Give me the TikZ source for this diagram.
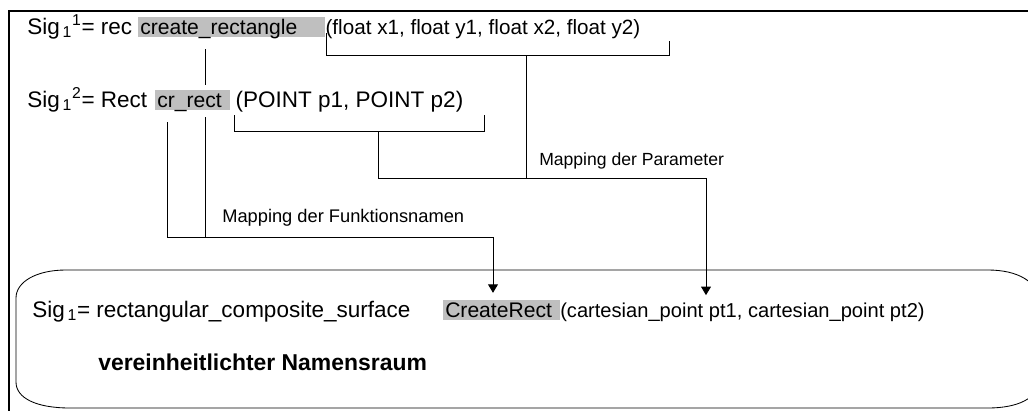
\documentclass[tikz,border=0pt]{standalone}
\usepackage{fontspec}
\setmainfont{Liberation Sans}
\usetikzlibrary{arrows.meta}

\begin{document}
\begin{tikzpicture}[x=0.025cm,y=-0.025cm,
    txt/.style={anchor=base west,inner sep=0pt,font=\fontsize{16}{19}\selectfont},
    lbl/.style={anchor=base west,inner sep=0pt,font=\fontsize{12.5}{15}\selectfont},
    hl/.style={txt,font=\fontsize{15}{18}\selectfont,fill=gray!50,inner xsep=1.4pt,
      text height=12pt,text depth=2pt,align=left},
    conn/.style={line width=0.6pt},
    map/.style={conn,-{Triangle[length=6pt,width=7pt]},shorten >=5pt}]
  \useasboundingbox (0,0) rectangle (1028,410);
  \begin{scope}
    \clip (0,0) rectangle (1028,410);
    % outer frame
    \draw[line width=1.5pt] (9,412) -- (9,11) -- (1030,11);
    % unified namespace
    \draw[conn] (66,270) -- (988,270) .. controls (1018,270) and (1038,282) .. (1038,300)
      -- (1038,382) .. controls (1038,398) and (1018,408) .. (988,408) -- (70,408)
      .. controls (36,408) and (16,398) .. (16,382) -- (16,298)
      .. controls (16,282) and (36,270) .. (66,270) -- cycle;
  \end{scope}

  % signatures
  \node[txt] (sigA) at (27,34) {Sig\kern2pt\textsubscript{1}\textsuperscript{1}= rec};
  \node[hl,text width=130pt] (crect) at (138,34) {create\_rectangle};
  \node[txt,font=\fontsize{14.7}{18}\selectfont] (parA) at (crect.base east)
    {(float x1, float y1, float x2, float y2)};

  \node[txt] (sigB) at (27,107) {Sig\kern2pt\textsubscript{1}\textsuperscript{2}= Rect};
  \node[hl,text width=50pt] (crr) at (155,107) {cr\_rect};
  \node[txt] (parB) at ([xshift=4pt]crr.base east) {(POINT p1, POINT p2)};

  \node[txt] (sigC) at (32,317) {Sig\kern2pt\textsubscript{1}= rectangular\_composite\_surface};
  \node[hl,text width=80pt] (cRect) at (443,317) {CreateRect};
  \node[txt,font=\fontsize{14.3}{18}\selectfont] (parC) at (cRect.base east)
    {(cartesian\_point pt1, cartesian\_point pt2)};
  \node[txt,font=\fontsize{16.3}{20}\selectfont\bfseries] (ns) at (98,370) {vereinheitlichter Namensraum};

  % brackets under the parameter lists
  \draw[conn] (326,33) |- (669,55) -- (669,41);
  \draw[conn] (234,115) |- (484,131) -- (484,115);

  % mapping of the parameters
  \coordinate (pa) at (526,55);
  \coordinate (pb) at (378,131);
  \coordinate (pj) at (706,178);
  \draw[conn] (pa) -- (pa |- pj);
  \draw[conn] (pb) |- (pj);
  \draw[map] (pj) -- (pj |- parC.north);
  \node[lbl] (mp) at (539,165) {Mapping der Parameter};

  % mapping of the function names
  \coordinate (n1) at (205,49);
  \coordinate (n2) at (205,85);
  \coordinate (n3) at (167,122);
  \coordinate (n4) at (205,117);
  \coordinate (nj) at (493,237);
  \draw[conn] (n1) -- (n2);
  \draw[conn] (n4) -- (n4 |- nj);
  \draw[conn] (n3) |- (nj);
  \draw[map] (nj) -- (nj |- cRect.north);
  \node[lbl,font=\fontsize{13}{15}\selectfont] (mf) at (222,222) {Mapping der Funktionsnamen};
\end{tikzpicture}
\end{document}
